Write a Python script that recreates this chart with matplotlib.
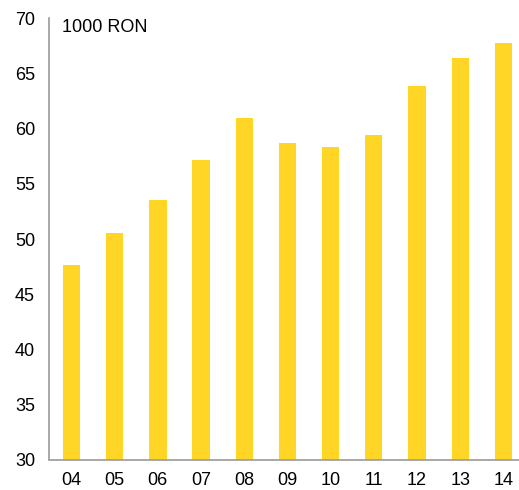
import matplotlib
matplotlib.use("Agg")
import matplotlib.pyplot as plt

years = ["04", "05", "06", "07", "08", "09", "10", "11", "12", "13", "14"]
values = [47.6, 50.5, 53.5, 57.2, 61.0, 58.7, 58.3, 59.4, 63.9, 66.4, 67.8]
yticks = [30, 35, 40, 45, 50, 55, 60, 65, 70]
unit_label = "1000 RON"

plt.rcParams['font.family'] = ['Liberation Sans', 'DejaVu Sans']

W, H = 519, 490
fig = plt.figure(figsize=(W / 100, H / 100), dpi=100)
ax_top = 18.5
ax_bot = 459.5
ax = fig.add_axes([49 / W, (H - ax_bot) / H, 1 - 49 / W, (ax_bot - ax_top) / H])

x = list(range(len(years)))
ax.bar(x, values, width=0.4, color='#FFD626')
ax.set_ylim(30, 70)
ax.set_xlim(-0.52, 10.36)
ax.set_yticks(yticks)
ax.set_xticks(x)
ax.set_xticklabels(years)

for s in ['top', 'right']:
    ax.spines[s].set_visible(False)
for s in ['left', 'bottom']:
    ax.spines[s].set_color('#999999')
    ax.spines[s].set_linewidth(1.2)

ax.tick_params(axis='y', length=0, pad=10, labelsize=13, colors='#000000')
ax.tick_params(axis='x', length=0, pad=9, labelsize=13, colors='#000000')

fig.text(62 / W, (H - 19) / H, unit_label, fontsize=13, va='top', ha='left')

fig.savefig("out.png", dpi=100)
